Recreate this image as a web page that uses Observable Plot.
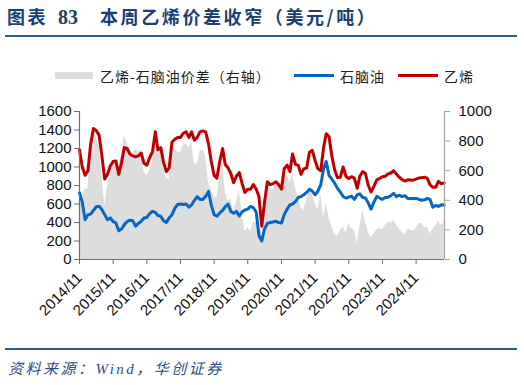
<!DOCTYPE html>
<html><head><meta charset="utf-8">
<script src="https://cdn.jsdelivr.net/npm/d3@7"></script>
<script src="https://cdn.jsdelivr.net/npm/@observablehq/plot@0.6"></script>
<style>
html,body{margin:0;padding:0;background:#fff;}
#page{position:relative;width:524px;height:385px;overflow:hidden;font-family:"Noto Sans CJK SC",sans-serif;}
.abs{position:absolute;white-space:nowrap;}
.t{font-size:18px;font-weight:bold;color:#1B3F73;line-height:18px;top:7px;letter-spacing:2.6px;}
.tn{font-family:"Liberation Serif",serif;font-size:20px;font-weight:bold;color:#1B3F73;line-height:18px;top:8px;}
.rule{position:absolute;left:5px;width:512px;height:2px;background:#2E5C8F;}
.lg{font-size:14px;line-height:14px;top:69px;color:#222;letter-spacing:1px;}
.src{font-family:"Liberation Serif","Noto Sans CJK SC",serif;font-style:italic;font-size:15px;line-height:15px;top:362px;left:8px;color:#2B4F86;letter-spacing:2.5px;}
#chart{position:absolute;left:0;top:95px;}
</style></head>
<body><div id="page">
<div class="abs t" style="left:7px">图表</div>
<div class="abs tn" style="left:58px">83</div>
<div class="abs t" style="left:100px">本周乙烯价差收窄（美元/吨）</div>
<div class="rule" style="top:35px"></div>
<div class="abs" style="left:55px;top:72px;width:38px;height:7px;background:#DDDDDD"></div>
<div class="abs lg" style="left:100px">乙烯-石脑油价差（右轴）</div>
<div class="abs" style="left:294px;top:74px;width:40px;height:3px;background:#0766C2"></div>
<div class="abs lg" style="left:340px">石脑油</div>
<div class="abs" style="left:398px;top:74px;width:40px;height:3px;background:#C00000"></div>
<div class="abs lg" style="left:444px">乙烯</div>
<div id="chart"></div>
<div class="rule" style="top:348px"></div>
<div class="abs src">资料来源：Wind，华创证券</div>
</div>
<script>
// monthly observations starting 2014/11
const startMonth = "2014/11";
const ethylene = [1185,1000,910,960,1240,1415,1395,1345,1130,870,
920,1010,1060,1066,920,1050,1210,1200,1140,1120,
1110,1120,1150,1040,1020,1100,1167,1380,1185,1210,
1050,950,990,1270,1300,1320,1320,1365,1380,1320,
1380,1290,1320,1380,1390,1380,1250,1060,910,880,
1060,1200,1030,990,930,830,900,940,820,725,
760,760,810,760,680,360,620,840,810,820,
840,810,760,985,1020,950,1140,1030,1020,920,
980,990,1160,1180,1070,980,960,1210,1360,1330,
1120,970,885,890,1000,900,875,895,880,770,
900,950,930,800,730,790,860,875,895,900,
925,935,960,925,890,865,848,862,860,858,
870,880,885,890,880,808,780,780,844,820,826];
const naphtha = [720,620,430,485,490,530,570,575,540,485,
430,450,410,395,310,330,377,410,425,420,
360,390,413,449,455,495,521,510,475,467,
420,400,450,485,556,595,600,595,600,565,
590,640,680,650,650,682,736,590,485,467,
503,530,570,600,520,500,520,470,515,535,
545,574,560,510,260,200,330,390,400,405,
413,400,395,485,545,590,600,625,670,680,
700,725,760,740,700,740,808,980,1060,910,
870,826,770,728,682,664,675,685,650,700,
710,670,664,610,545,620,682,665,650,670,
672,690,715,680,695,680,690,660,660,660,
660,650,640,645,660,650,565,585,574,592,588];
const spread = [465,420,480,475,750,885,825,770,590,360,
490,560,650,670,610,720,833,790,715,700,
750,730,737,591,565,605,646,870,710,743,
630,550,540,785,744,725,720,770,780,755,
790,650,640,730,740,698,514,470,425,413,
557,670,460,390,410,330,380,470,305,190,
215,186,250,250,300,160,350,480,480,470,
500,520,490,540,581,513,581,480,423,350,
333,400,468,440,380,333,450,288,378,288,
220,170,153,198,220,176,243,210,198,108,
220,330,260,180,150,170,200,210,200,230,
250,245,265,235,205,185,165,205,200,190,
210,240,245,215,220,170,205,225,260,230,250];
const xTickLabels = ["2014/11","2015/11","2016/11","2017/11","2018/11","2019/11","2020/11","2021/11","2022/11","2023/11","2024/11"];
const leftTicks = [0,200,400,600,800,1000,1200,1400,1600];
const rightTicks = [0,200,400,600,800,1000];

const parse = d3.utcParse("%Y/%m");
const t0 = parse(startMonth);
const rows = ethylene.map((e,i)=>({date:d3.utcMonth.offset(t0,i), eth:e, nap:naphtha[i], spr:spread[i]}));
const xTicks = xTickLabels.map(parse);
const ratio = 1600/1000;
const xStart = t0, xEnd = d3.utcDay.offset(rows[rows.length-1].date, 4);

const chart = Plot.plot({
  width:524, height:255,
  marginTop:16, marginBottom:91, marginLeft:79, marginRight:80,
  style:{fontFamily:"'Liberation Sans',Arial,sans-serif", fontSize:"15px", color:"#111", background:"transparent", overflow:"visible"},
  x:{type:"utc", domain:[xStart,xEnd]},
  y:{domain:[0,1600]},
  marks:[
    Plot.areaY(rows,{x:"date", y:d=>d.spr*ratio, fill:"#DDDDDD"}),
    Plot.lineY(rows,{x:"date", y:"nap", stroke:"#0766C2", strokeWidth:3}),
    Plot.lineY(rows,{x:"date", y:"eth", stroke:"#C00000", strokeWidth:3}),
    Plot.ruleX([xStart],{stroke:"#6e6e6e", strokeWidth:1.2}),
    Plot.ruleX([xEnd],{stroke:"#a6a6a6", strokeWidth:1.2}),
    Plot.ruleY([0],{stroke:"#6e6e6e", strokeWidth:1.2}),
    Plot.axisY(leftTicks,{anchor:"left", tickSize:5, tickPadding:3, stroke:"#6e6e6e", fill:"#111", tickFormat:v=>String(v), label:null}),
    Plot.axisY(rightTicks.map(v=>v*ratio),{anchor:"right", tickSize:5, tickPadding:9, stroke:"#a6a6a6", fill:"#111", tickFormat:v=>String(Math.round(v/ratio)), label:null}),
    Plot.axisX(xTicks,{anchor:"bottom", tickSize:5, tickPadding:11, tickRotate:-45, stroke:"#6e6e6e", fill:"#111", tickFormat:d3.utcFormat("%Y/%m"), label:null})
  ]
});
document.getElementById("chart").appendChild(chart);
</script>
</body></html>
